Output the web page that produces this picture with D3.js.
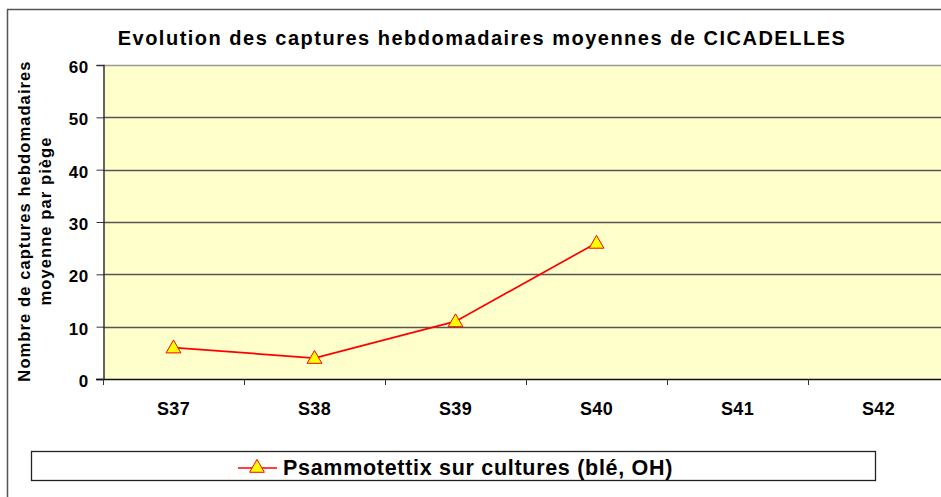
<!DOCTYPE html>
<html>
<head>
<meta charset="utf-8">
<script src="https://cdn.jsdelivr.net/npm/d3@7"></script>
<style>
  body { margin: 0; background: #fff; }
  text { font-family: "Liberation Sans", Arial, sans-serif; font-weight: bold; fill: #000; }
</style>
</head>
<body>
<div id="chart"></div>
<script>
// Data
var weeks = ["S37", "S38", "S39", "S40", "S41", "S42"];
var captures = [6, 4, 11, 26, null, null];
var yTicks = [0, 10, 20, 30, 40, 50, 60];
var seriesName = "Psammotettix sur cultures (blé, OH)";
var chartTitle = "Evolution des captures hebdomadaires moyennes de CICADELLES";
var yLabelLines = ["Nombre de captures hebdomadaires", "moyenne par piège"];

var W = 941, H = 497;
var margin = {top: 65, left: 103, bottom: 379, right: 949};

var svg = d3.select("#chart").append("svg")
    .attr("width", W)
    .attr("height", H);

// outer chart frame (runs past the window on the right and bottom)
svg.append("rect")
    .attr("x", 7.5).attr("y", 9.5)
    .attr("width", 1000).attr("height", 600)
    .attr("fill", "#fff")
    .attr("stroke", "#555")
    .attr("stroke-width", 1.5);

var x = d3.scaleBand()
    .domain(weeks)
    .range([margin.left, margin.right]);

var y = d3.scaleLinear()
    .domain([0, 60])
    .range([margin.bottom, margin.top]);

// plot background
svg.append("rect")
    .attr("x", margin.left).attr("y", margin.top)
    .attr("width", margin.right - margin.left)
    .attr("height", margin.bottom - margin.top)
    .attr("fill", "#FFFFCC");

// gridlines
svg.selectAll(".grid")
    .data(yTicks.filter(function(d) { return d > 0; }))
    .enter().append("line")
    .attr("class", "grid")
    .attr("x1", margin.left).attr("x2", margin.right)
    .attr("y1", function(d) { return Math.round(y(d)) + 0.5; })
    .attr("y2", function(d) { return Math.round(y(d)) + 0.5; })
    .attr("stroke", function(d) { return d === 60 ? "#999" : "#555"; })
    .attr("stroke-width", 1.3);

// y axis
var yAxisG = svg.append("g")
    .attr("transform", "translate(" + (margin.left + 0.5) + ",0)")
    .call(d3.axisLeft(y).tickValues(yTicks).tickSize(7).tickPadding(8));
yAxisG.select(".domain").attr("stroke", "#333").attr("stroke-width", 1.5);
yAxisG.selectAll(".tick line").attr("stroke", "#333");
yAxisG.selectAll(".tick text")
    .style("font-size", "17px")
    .style("font-family", "'Liberation Sans', Arial, sans-serif")
    .style("font-weight", "bold")
    .style("letter-spacing", "0.4px")
    .attr("dy", "0.45em")
    .attr("fill", "#000");

// x axis
svg.append("line")
    .attr("x1", margin.left - 7).attr("x2", margin.right)
    .attr("y1", margin.bottom + 0.5).attr("y2", margin.bottom + 0.5)
    .attr("stroke", "#111").attr("stroke-width", 1.5);

svg.selectAll(".xtick")
    .data(weeks)
    .enter().append("line")
    .attr("class", "xtick")
    .attr("x1", function(d) { return Math.round(x(d)) + 0.5; })
    .attr("x2", function(d) { return Math.round(x(d)) + 0.5; })
    .attr("y1", margin.bottom).attr("y2", margin.bottom + 6)
    .attr("stroke", "#333");

svg.selectAll(".xlabel")
    .data(weeks)
    .enter().append("text")
    .attr("class", "xlabel")
    .attr("x", function(d) { return x(d) + x.bandwidth() / 2; })
    .attr("y", margin.bottom + 36)
    .attr("text-anchor", "middle")
    .style("font-size", "18px")
    .style("letter-spacing", "0.4px")
    .text(function(d) { return d; });

// title
svg.append("text")
    .attr("x", 482).attr("y", 45)
    .attr("text-anchor", "middle")
    .style("font-size", "20px")
    .style("letter-spacing", "1.5px")
    .text(chartTitle);

// y label
var yLab = svg.append("text")
    .attr("transform", "translate(30," + 221 + ") rotate(-90)")
    .attr("text-anchor", "middle")
    .style("font-size", "16.5px")
    .style("letter-spacing", "1.1px");
yLab.selectAll("tspan")
    .data(yLabelLines)
    .enter().append("tspan")
    .attr("x", 0)
    .attr("dy", function(d, i) { return i === 0 ? 0 : 21; })
    .text(function(d) { return d; });

// series line
var pts = weeks.map(function(w, i) { return {w: w, v: captures[i]}; })
    .filter(function(d) { return d.v !== null; });

var line = d3.line()
    .x(function(d) { return x(d.w) + x.bandwidth() / 2; })
    .y(function(d) { return y(d.v); });

svg.append("path")
    .datum(pts)
    .attr("d", line)
    .attr("fill", "none")
    .attr("stroke", "#FF0000")
    .attr("stroke-width", 1.7);

var tri = d3.symbol().type(d3.symbolTriangle).size(95);
svg.selectAll(".marker")
    .data(pts)
    .enter().append("path")
    .attr("class", "marker")
    .attr("d", tri)
    .attr("transform", function(d) { return "translate(" + (x(d.w) + x.bandwidth() / 2) + "," + (y(d.v) + 1) + ")"; })
    .attr("fill", "#FFFF00")
    .attr("stroke", "#FF0000")
    .attr("stroke-width", 1);

// legend
svg.append("rect")
    .attr("x", 31.5).attr("y", 451.5)
    .attr("width", 844).attr("height", 29)
    .attr("fill", "#fff")
    .attr("stroke", "#222")
    .attr("stroke-width", 1.3);

svg.append("line")
    .attr("x1", 238).attr("x2", 277)
    .attr("y1", 468).attr("y2", 468)
    .attr("stroke", "#FF0000").attr("stroke-width", 1.7);
svg.append("path")
    .attr("d", tri)
    .attr("transform", "translate(257,468)")
    .attr("fill", "#FFFF00")
    .attr("stroke", "#FF0000");

svg.append("text")
    .attr("x", 283).attr("y", 475)
    .style("font-size", "21.5px")
    .style("letter-spacing", "0.7px")
    .text(seriesName);
</script>
</body>
</html>
